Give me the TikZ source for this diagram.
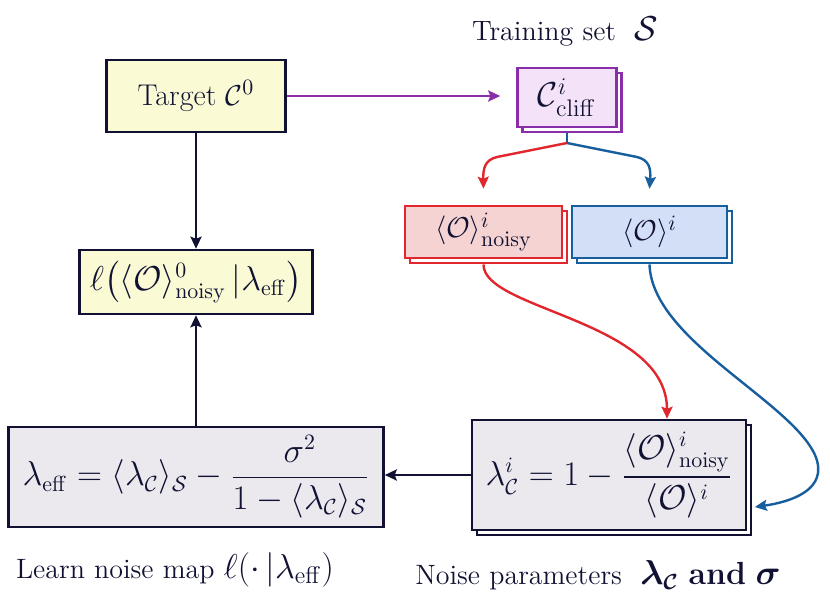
\documentclass[tikz,border=0pt]{standalone}
\usepackage{amsmath}
\usetikzlibrary{arrows.meta,shadows,calc}
\definecolor{navy}{HTML}{111233}
\definecolor{yfill}{HTML}{FAFAD4}
\definecolor{gfill}{HTML}{EBE8EE}
\definecolor{pline}{HTML}{8A2DA8}
\definecolor{pfill}{HTML}{F4E2F9}
\definecolor{rline}{HTML}{E2262E}
\definecolor{rfill}{HTML}{F6D3D3}
\definecolor{bline}{HTML}{175E9E}
\definecolor{bfill}{HTML}{D2DFF7}
\begin{document}
\begin{tikzpicture}[x=0.5pt,y=-0.5pt,
  every node/.style={text=navy},
  boxnode/.style={draw=navy, line width=1.25pt, inner sep=0pt, font=\fontsize{16}{19}\selectfont},
  shadowed/.style={copy shadow={shadow xshift=2.6pt, shadow yshift=-2.6pt, fill=white}},
  lbl/.style={font=\fontsize{14}{17}\selectfont},
  conn/.style={line width=1.2pt, -{Stealth[length=6pt,width=5.5pt,inset=1pt]}},
]
\useasboundingbox (0,0) rectangle (830,593);

% nodes
\node[boxnode, fill=yfill, minimum width=89.5pt, minimum height=36pt, font=\fontsize{15}{18}\selectfont] (target) at (196,96) {Target $\mathcal{C}^0$};
\node[boxnode, fill=yfill, minimum width=116.5pt, minimum height=32pt] (ell) at (196,282) {$\ell\big(\langle\mathcal{O}\rangle^0_{\mathrm{noisy}}\,|\lambda_{\mathrm{eff}}\big)$};
\node[boxnode, fill=gfill, minimum width=187.5pt, minimum height=50pt] (left) at (196,477)
  {$\lambda_{\mathrm{eff}} = \langle\lambda_{\mathcal{C}}\rangle_{\mathcal{S}} - \dfrac{\sigma^2}{1-\langle\lambda_{\mathcal{C}}\rangle_{\mathcal{S}}}$};
\node[boxnode, fill=gfill, shadowed, minimum width=137pt, minimum height=55pt] (lam) at (609,475)
  {$\lambda^i_{\mathcal{C}} = 1 - \dfrac{\langle\mathcal{O}\rangle^i_{\mathrm{noisy}}}{\langle\mathcal{O}\rangle^i}$};
\node[boxnode, draw=pline, fill=pfill, shadowed, minimum width=49.5pt, minimum height=29.5pt, font=\fontsize{17}{20}\selectfont] (cliff) at (567,97.5) {$\mathcal{C}^i_{\mathrm{cliff}}$};
\node[boxnode, draw=rline, fill=rfill, shadowed, minimum width=78.5pt, minimum height=26pt, font=\fontsize{15.5}{18}\selectfont] (red) at (483.5,232) {$\langle\mathcal{O}\rangle^i_{\mathrm{noisy}}$};
\node[boxnode, draw=bline, fill=bfill, shadowed, minimum width=77.5pt, minimum height=26pt, font=\fontsize{15.5}{18}\selectfont] (blue) at (649.5,232) {$\langle\mathcal{O}\rangle^i$};

\node[lbl] (train) at (565,32) {Training set\ \ {\fontsize{18}{20}\selectfont$\mathcal{S}$}};
\node[lbl] (learn) at (175,570) {Learn noise map {\fontsize{16.5}{20}\selectfont$\ell(\cdot\,|\lambda_{\mathrm{eff}})$}};
\node[lbl] (noisep) at (598,575) {Noise parameters\ \ {\fontsize{16}{20}\selectfont\boldmath$\lambda_{\mathcal{C}}$ \textbf{and} $\sigma$}};

% connectors
\draw[conn, pline, shorten >=8pt] (target.east) -- (target.east -| cliff.west);
\coordinate (br) at (567,143);
\draw[line width=1.2pt, bline] ([yshift=-2.6pt]cliff.south) -- (br);
\draw[conn, rline] (br) -- (497,157) .. controls (485,160) and (483,168) .. ([yshift=8pt]red.north);
\draw[conn, bline] (br) -- (637,157) .. controls (649,160) and (651,168) .. ([yshift=8pt]blue.north);
\draw[conn, rline] ([yshift=-2.6pt]red.south) .. controls (483,310) and (667,320) .. ([xshift=29pt]lam.north);
\draw[conn, bline] ([yshift=-2.6pt]blue.south) .. controls (652,340) and (790,400) .. (815,455)
   .. controls (830,490) and (790,502) .. ([xshift=3.8pt,yshift=-16pt]lam.east);
\draw[conn, navy] (lam.west) -- (lam.west -| left.east);
\draw[conn, navy] (left.north) -- (ell.south);
\draw[conn, navy] (target.south) -- (ell.north);
\end{tikzpicture}
\end{document}
